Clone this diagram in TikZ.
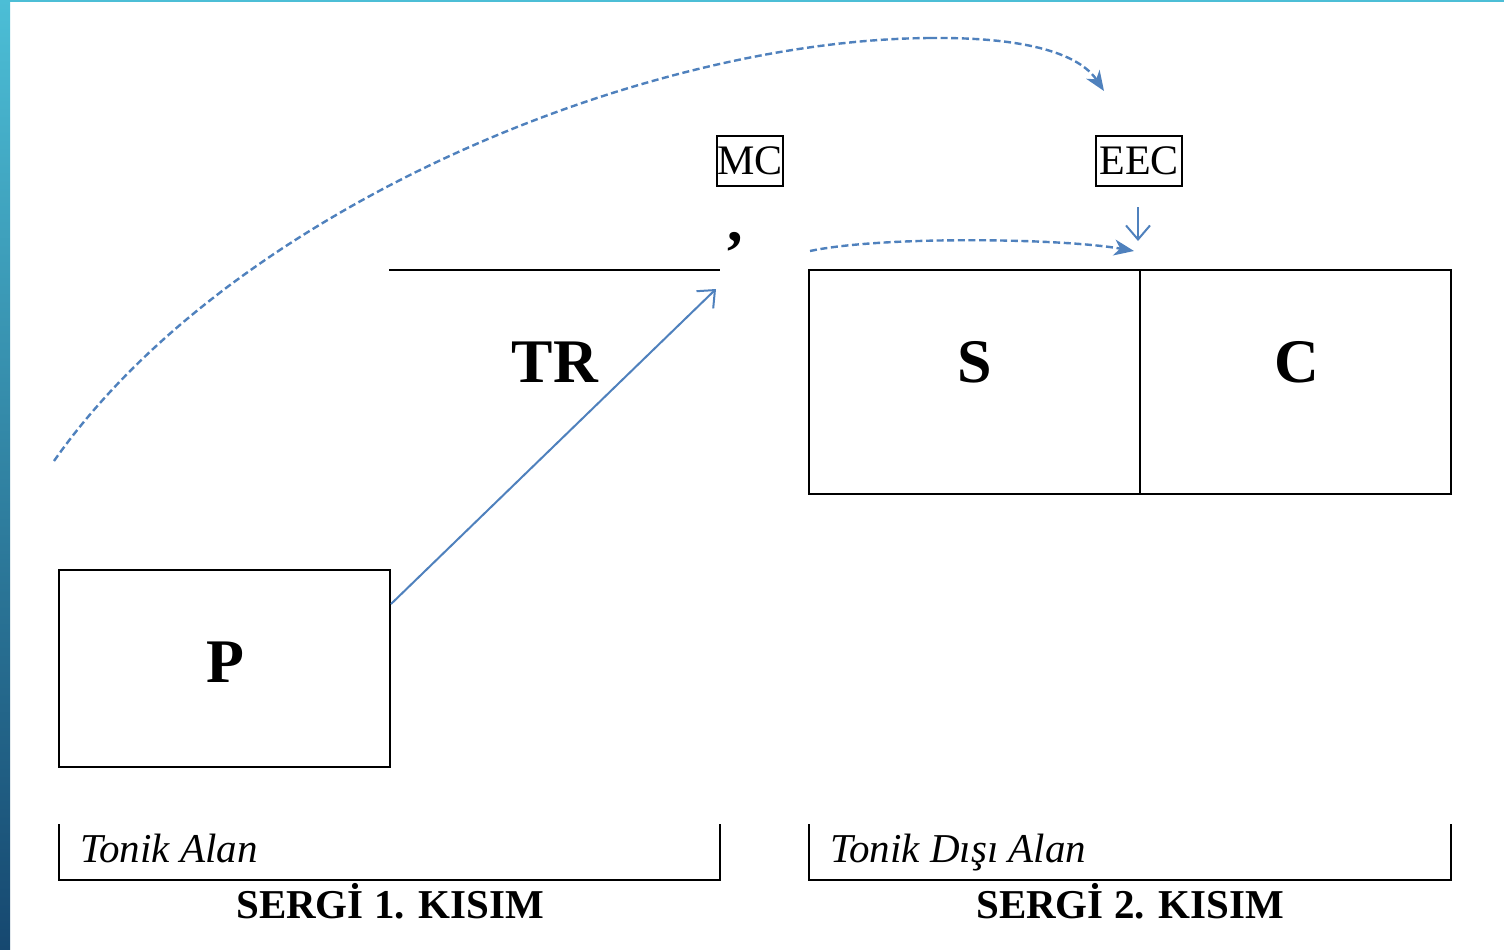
\documentclass[tikz,border=0pt]{standalone}
\usepackage{fontspec}
\setmainfont{Liberation Serif}
\usetikzlibrary{arrows.meta,calc}
\definecolor{obl}{RGB}{79,129,189}
\definecolor{bartop}{RGB}{76,190,214}
\definecolor{barbot}{RGB}{22,72,112}
\tikzset{
  box/.style={draw=black, line width=1.1pt, inner sep=0pt},
  big/.style={font=\fontsize{31}{31}\selectfont\bfseries, inner sep=0pt},
  tag/.style={draw=black, line width=1.1pt, inner sep=0pt, font=\fontsize{21}{21}\selectfont},
  ital/.style={font=\fontsize{20.5}{20.5}\selectfont\itshape, inner sep=0pt, anchor=base west},
  part/.style={font=\fontsize{20.5}{20.5}\selectfont\bfseries, inner sep=0pt, anchor=base},
  blk/.style={line width=1.1pt},
  solidarr/.style={obl, line width=1pt, -{Straight Barb[length=7pt,width=12pt,line width=1pt]}},
  dashline/.style={obl, line width=1.2pt, dash pattern=on 3.5pt off 1.8pt},
  dasharr/.style={dashline, -{Stealth[length=10pt,width=8pt,inset=3pt]}},
}
\begin{document}
\begin{tikzpicture}[x=0.5pt,y=-0.5pt]
\useasboundingbox (0,0) rectangle (1504,949);
\fill[white] (0,0) rectangle (1504,949);
\shade[top color=bartop, bottom color=barbot] (0,0) rectangle (10,949);
\fill[bartop] (10,0) rectangle (1504,2);

% boxes
\node[box, minimum width=165.5pt, minimum height=98.5pt] (P) at (224.5,668.5) {};
\node[big] (Pl) at (225,662) {P};
\node[box, minimum width=165.5pt, minimum height=112pt] (S) at (974.5,382) {};
\node[box, minimum width=155.5pt, minimum height=112pt] (C) at (1295.5,382) {};
\node[big] (Sl) at (975,362) {S};
\node[big] (Cl) at (1297,362) {C};
\node[big] (TR) at (555,362) {TR};
\node[big] (comma) at (735,242) {,};
\node[tag, minimum width=33pt, minimum height=25pt] (MC) at (750,161) {MC};
\node[tag, minimum width=43pt, minimum height=25pt] (EEC) at (1139,161) {EEC};

% TR line
\coordinate (tl1) at (389,270);
\coordinate (tl2) at (720,270);
\draw[blk] (tl1) -- (tl2);

% arrows
\coordinate (a1) at (391,604);
\coordinate (a2) at (716,289);
\draw[solidarr] (a1) -- (a2);

\coordinate (e1) at (1138,207);
\coordinate (e2) at (1138,241);
\draw[solidarr] (e1) -- (e2);

\coordinate (d1) at (810,251);
\coordinate (d2) at (1134,251);
\draw[dasharr] (d1) .. controls (880,236) and (1060,238) .. (d2);

\coordinate (b1) at (54,461);
\coordinate (bm) at (930,38);
\coordinate (b2) at (1104,91);
\draw[dashline] (b1) .. controls (230,210) and (640,40) .. (bm);
\draw[dasharr] (bm) .. controls (1030,37) and (1080,55) .. (b2);

% brackets
\draw[blk] (59,824) -- (59,880) -- (720,880) -- (720,824);
\draw[blk] (809,824) -- (809,880) -- (1451,880) -- (1451,824);
\node[ital] (ta) at (80,862) {Tonik Alan};
\node[ital] (tda) at (830,862) {Tonik Dışı Alan};
\node[part] (s1) at (390,918) {SERGİ 1. KISIM};
\node[part] (s2) at (1130,918) {SERGİ 2. KISIM};
\end{tikzpicture}
\end{document}
